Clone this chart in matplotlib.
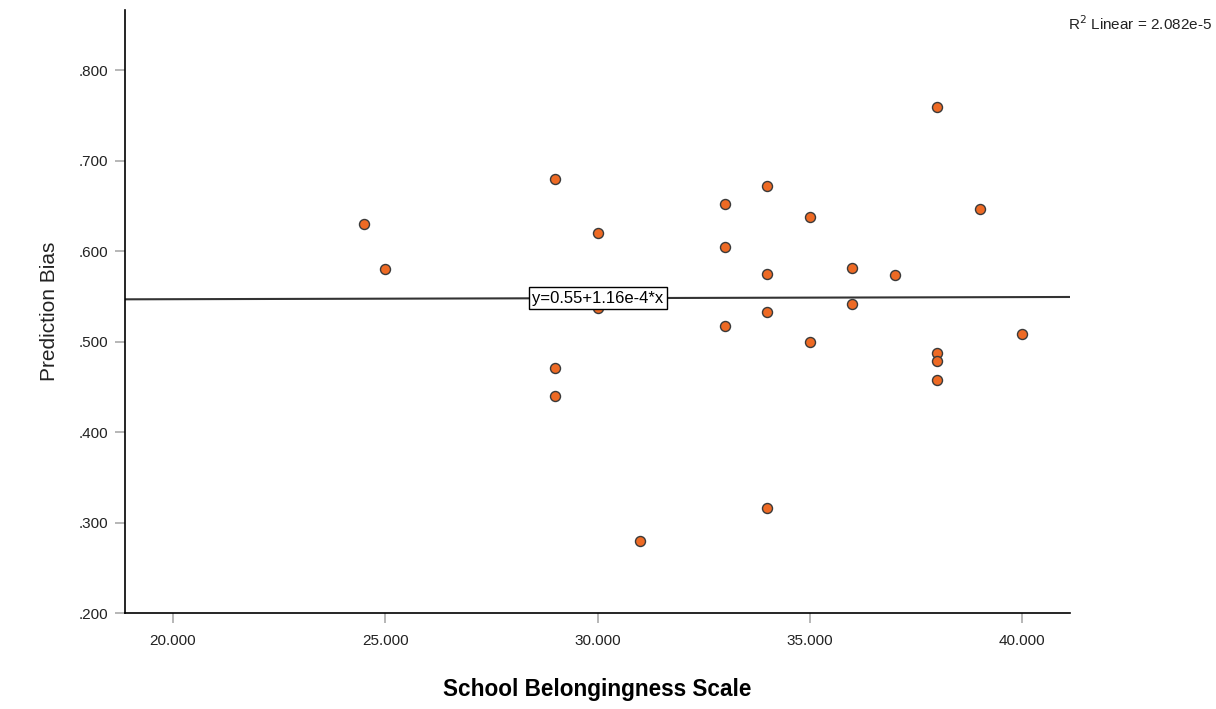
import matplotlib.pyplot as plt
import numpy as np
from matplotlib.ticker import FuncFormatter

plt.rcParams['font.family'] = ['Liberation Sans', 'DejaVu Sans']

# School Belongingness Scale vs Prediction Bias
belonging = [24.5, 25, 29, 29, 29, 30, 30, 31, 33, 33, 33, 34, 34, 34, 34,
             35, 35, 36, 36, 37, 38, 38, 38, 38, 39, 40]
bias = [0.630, 0.580, 0.680, 0.471, 0.440, 0.620, 0.537, 0.280, 0.652, 0.605,
        0.517, 0.672, 0.575, 0.533, 0.316, 0.638, 0.500, 0.581, 0.541, 0.574,
        0.759, 0.487, 0.479, 0.457, 0.647, 0.508]

intercept = 0.5445
slope = 1.16e-4
xlim = (18.87, 41.13)
ylim = (0.2, 0.867)
xticks = [20, 25, 30, 35, 40]
yticks = [0.2, 0.3, 0.4, 0.5, 0.6, 0.7, 0.8]

fig = plt.figure(figsize=(12.16, 7.09), dpi=100)
ax = fig.add_axes([0.1028, 0.1354, 0.7772, 0.8512])

xs = np.array(xlim)
ax.plot(xs, intercept + slope * xs, color='#333333', lw=1.5, zorder=2)
ax.scatter(belonging, bias, s=52, color='#EE6A24', edgecolors='#3a3a3a',
           linewidths=1.0, zorder=3)

ax.text(30, intercept + slope * 30, 'y=0.55+1.16e-4*x', ha='center', va='center',
        fontsize=12, zorder=4,
        bbox=dict(boxstyle='square,pad=0.2', fc='white', ec='black', lw=1))

ax.set_xlim(*xlim)
ax.set_ylim(*ylim)
ax.set_xticks(xticks)
ax.set_yticks(yticks)
ax.xaxis.set_major_formatter(FuncFormatter(lambda v, p: '%.3f' % v))
ax.yaxis.set_major_formatter(FuncFormatter(lambda v, p: ('%.3f' % v).lstrip('0')))

for side in ['top', 'right']:
    ax.spines[side].set_visible(False)
for side in ['left', 'bottom']:
    ax.spines[side].set_linewidth(1.2)
    ax.spines[side].set_color('black')
ax.tick_params(axis='both', length=7, width=1.2, color='#aaaaaa',
               labelsize=11, labelcolor='#222222', pad=5)
ax.tick_params(axis='x', pad=8)

ax.set_xlabel('School Belongingness Scale', fontsize=16.3, fontweight='bold', labelpad=22)
ax.set_ylabel('Prediction Bias', fontsize=15, labelpad=14, color='#222222')

fig.text(0.9965, 0.966, 'R$^2$ Linear = 2.082e-5', ha='right', va='center', fontsize=11,
         color='#222222')

fig.savefig('out.png', dpi=100)
